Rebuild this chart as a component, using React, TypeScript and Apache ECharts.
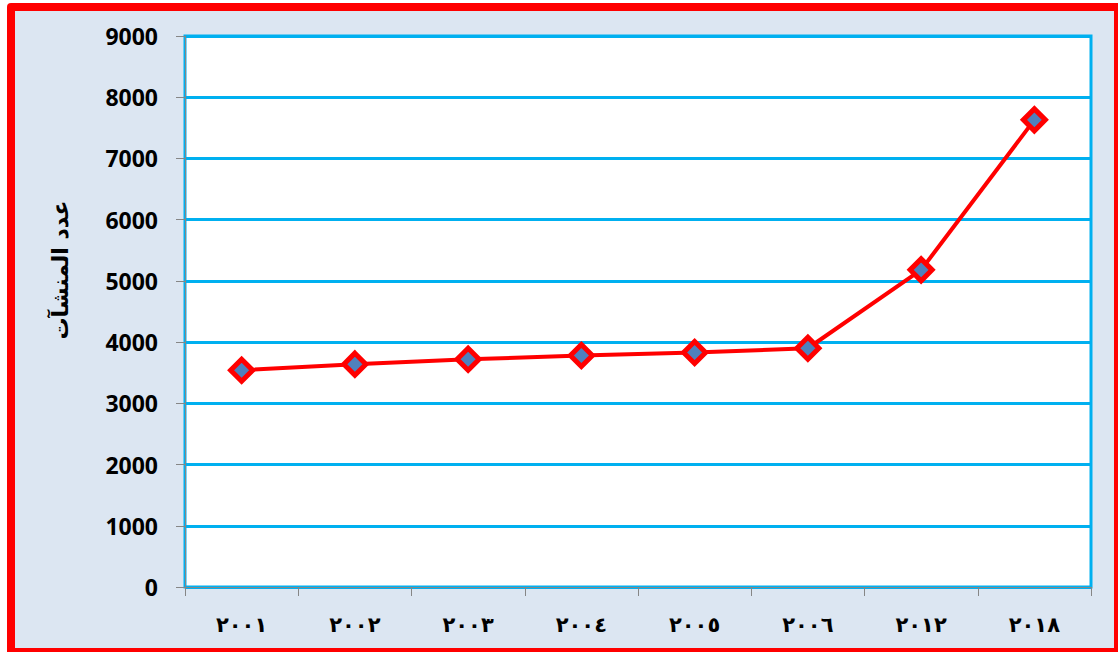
import React, { useEffect, useRef } from "react";
import * as echarts from "echarts";

const categories = ["٢٠٠١", "٢٠٠٢", "٢٠٠٣", "٢٠٠٤", "٢٠٠٥", "٢٠٠٦", "٢٠١٢", "٢٠١٨"];
const establishments = [3540, 3640, 3720, 3780, 3830, 3900, 5180, 7630];
const yTicks = [0, 1000, 2000, 3000, 4000, 5000, 6000, 7000, 8000, 9000];
const yAxisTitle = "عدد المنشآت";

export default function App() {
  const ref = useRef<HTMLDivElement>(null);
  useEffect(() => {
    if (!ref.current) return;
    const chart = echarts.init(ref.current, null, { renderer: "svg" });
    chart.setOption({
      animation: false,
      graphic: [
        { type: "rect", z: -10, shape: { x: 7, y: 3, width: 1111, height: 649, r: [4, 0, 0, 0] }, style: { fill: "#ff0000" } },
        { type: "rect", z: -9, shape: { x: 15, y: 11, width: 1099, height: 637 }, style: { fill: "#dce6f2" } },
        {
          type: "text",
          x: 60,
          y: 270,
          rotation: Math.PI / 2,
          style: {
            text: yAxisTitle,
            font: "bold 22px 'DejaVu Sans'",
            fill: "#000",
            align: "center",
            verticalAlign: "middle",
          },
        },
      ],
      grid: {
        left: 185,
        right: 27,
        top: 36,
        bottom: 65,
        show: true,
        backgroundColor: "#ffffff",
        borderColor: "#00b0f0",
        borderWidth: 3,
      },
      xAxis: {
        type: "category",
        data: categories,
        boundaryGap: true,
        axisLine: { show: true, lineStyle: { color: "#868686", width: 1 } },
        axisTick: { show: true, alignWithLabel: false, length: 9, lineStyle: { color: "#868686" } },
        axisLabel: {
          margin: 27,
          color: "#000",
          fontFamily: "DejaVu Sans",
          fontWeight: "bold",
          fontSize: 21,
        },
      },
      yAxis: {
        type: "value",
        min: 0,
        max: 9000,
        interval: 1000,
        axisLine: { show: true, lineStyle: { color: "#868686", width: 1 } },
        axisTick: { show: true, length: 9, lineStyle: { color: "#868686" } },
        splitLine: { show: true, lineStyle: { color: "#00b0f0", width: 3 } },
        axisLabel: {
          margin: 27,
          color: "#000",
          fontFamily: "Noto Sans",
          fontWeight: "bold",
          fontSize: 23,
          formatter: (v: number) => (yTicks.includes(v) ? String(v) : ""),
        },
      },
      series: [
        {
          type: "line",
          data: establishments,
          lineStyle: { color: "#ff0000", width: 4 },
          symbol: "diamond",
          symbolSize: 22,
          itemStyle: { color: "#4f81bd", borderColor: "#ff0000", borderWidth: 5 },
        },
      ],
    });
    return () => chart.dispose();
  }, []);
  return <div ref={ref} style={{ position: "absolute", left: 0, top: 0, width: 1118, height: 652 }} />;
}
